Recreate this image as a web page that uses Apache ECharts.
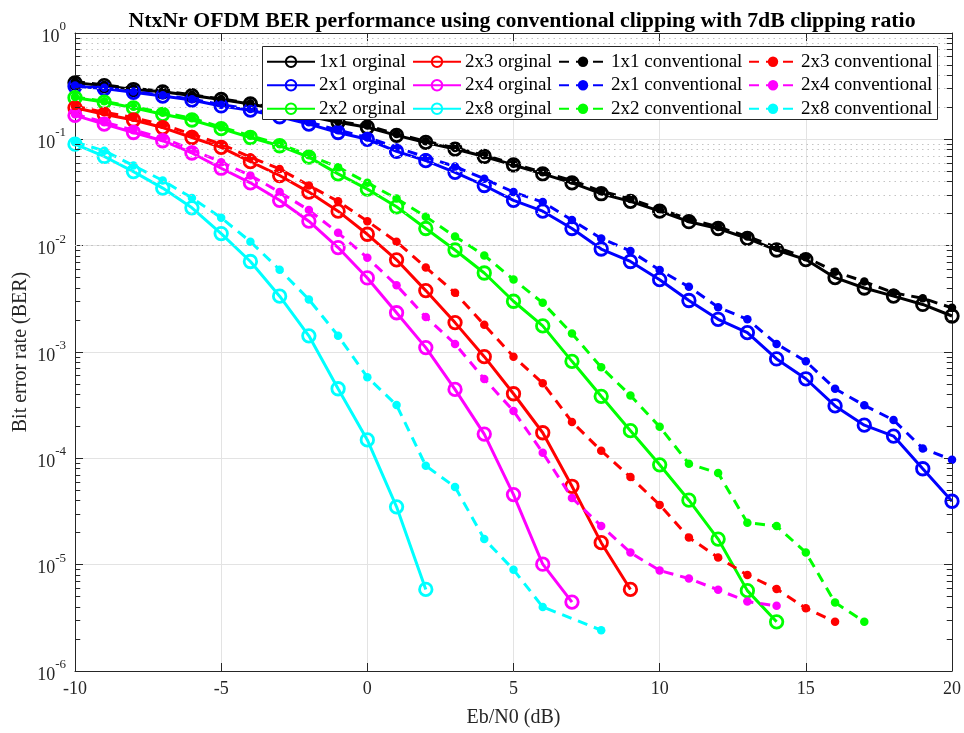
<!DOCTYPE html>
<html><head><meta charset="utf-8">
<script src="https://cdn.jsdelivr.net/npm/echarts@6/dist/echarts.min.js"></script>
<style>html,body{margin:0;padding:0;background:#fff}#c{width:964px;height:733px}</style>
</head><body><div id="c"></div>
<script>
// ---------- data ----------
const ebn0 = [-10,-9,-8,-7,-6,-5,-4,-3,-2,-1,0,1,2,3,4,5,6,7,8,9,10,11,12,13,14,15,16,17,18,19,20];
const ebn0_2x8_conv = [-10,-9,-8,-7,-6,-5,-4,-3,-2,-1,0,1,2,3,4,5,6,8];

const ber_1x1_orig = [0.34,0.32,0.294,0.28,0.258,0.237,0.215,0.19,0.165,0.145,0.13,0.109,0.0935,0.081,0.069,0.0574,0.0473,0.039,0.0308,0.0261,0.0211,0.0168,0.0145,0.0117,0.0091,0.0074,0.0050,0.0040,0.00335,0.0028,0.00218];
const ber_2x1_orig = [0.315,0.30,0.277,0.255,0.234,0.206,0.188,0.163,0.139,0.116,0.10,0.077,0.063,0.049,0.0368,0.0267,0.0211,0.0145,0.0093,0.0071,0.00479,0.00305,0.00203,0.00152,0.00086,0.00056,0.000311,0.000205,0.000162,0.0000798,0.0000395];
const ber_2x2_orig = [0.246,0.224,0.198,0.172,0.152,0.126,0.104,0.087,0.068,0.0473,0.034,0.0232,0.0145,0.0091,0.00553,0.0030,0.00176,0.000817,0.000383,0.000182,0.0000869,0.0000404,0.0000174,0.0000057,0.0000029];
const ber_2x3_orig = [0.198,0.172,0.152,0.129,0.104,0.084,0.0617,0.0457,0.0319,0.0211,0.0128,0.00736,0.00378,0.00189,0.000904,0.000405,0.000174,0.0000546,0.0000161,0.00000585];
const ber_2x4_orig = [0.168,0.139,0.116,0.097,0.0744,0.0535,0.039,0.0267,0.017,0.0096,0.00497,0.00234,0.0011,0.000445,0.000169,0.0000456,0.0000101,0.00000445];
const ber_2x8_orig = [0.09,0.069,0.0497,0.0348,0.0227,0.013,0.0071,0.00335,0.00142,0.000451,0.000149,0.000035,0.00000585];

const ber_1x1_conv = [0.35,0.325,0.30,0.285,0.262,0.24,0.218,0.195,0.168,0.147,0.135,0.112,0.096,0.083,0.071,0.059,0.049,0.041,0.0325,0.0275,0.022,0.0178,0.015,0.0122,0.0096,0.0078,0.0057,0.0046,0.0036,0.0032,0.0026];
const ber_2x1_conv = [0.32,0.305,0.282,0.26,0.238,0.212,0.193,0.17,0.145,0.122,0.104,0.084,0.068,0.0555,0.0426,0.0319,0.0257,0.0174,0.0117,0.0089,0.0059,0.0041,0.00264,0.00203,0.00119,0.000817,0.000451,0.000315,0.000229,0.000124,0.0000968];
const ber_2x2_conv = [0.25,0.228,0.202,0.178,0.158,0.13,0.108,0.09,0.071,0.0547,0.039,0.0277,0.0187,0.0122,0.0081,0.0048,0.0029,0.00149,0.00072,0.00039,0.000198,0.0000889,0.0000728,0.0000248,0.0000231,0.000013,0.0000044,0.0000029];
const ber_2x3_conv = [0.205,0.18,0.16,0.137,0.112,0.09,0.068,0.0527,0.0368,0.0261,0.017,0.0109,0.00624,0.0036,0.0018,0.000904,0.000509,0.00022,0.000118,0.0000667,0.0000365,0.000018,0.0000117,0.000008,0.0000059,0.0000039,0.0000029];
const ber_2x4_conv = [0.172,0.145,0.122,0.103,0.08,0.061,0.0457,0.0319,0.0216,0.0132,0.0077,0.00424,0.00213,0.00119,0.000558,0.000279,0.000113,0.0000424,0.0000231,0.000013,0.0000088,0.0000074,0.0000058,0.0000045,0.0000041];
const ber_2x8_conv = [0.094,0.078,0.0566,0.041,0.0281,0.0183,0.0109,0.00594,0.00312,0.00142,0.00058,0.000317,0.0000851,0.0000538,0.0000174,0.00000898,0.000004,0.00000242];

const xTicks = [-10,-5,0,5,10,15,20];
const titleText = 'NtxNr OFDM BER performance using conventional clipping with 7dB clipping ratio';
const xName = 'Eb/N0 (dB)';
const yName = 'Bit error rate (BER)';

// ---------- build ----------
const FONT = "'Liberation Serif','Times New Roman',serif";
const AX = '#262626';
const pair = (xs, ys) => ys.map((y, i) => [xs[i], y]);

const defs = [
  {name:'1x1 orginal', x:ebn0, y:ber_1x1_orig, c:'#000000', conv:false},
  {name:'2x1 orginal', x:ebn0, y:ber_2x1_orig, c:'#0000ff', conv:false},
  {name:'2x2 orginal', x:ebn0, y:ber_2x2_orig, c:'#00ff00', conv:false},
  {name:'2x3 orginal', x:ebn0, y:ber_2x3_orig, c:'#ff0000', conv:false},
  {name:'2x4 orginal', x:ebn0, y:ber_2x4_orig, c:'#ff00ff', conv:false},
  {name:'2x8 orginal', x:ebn0, y:ber_2x8_orig, c:'#00ffff', conv:false},
  {name:'1x1 conventional', x:ebn0, y:ber_1x1_conv, c:'#000000', conv:true},
  {name:'2x1 conventional', x:ebn0, y:ber_2x1_conv, c:'#0000ff', conv:true},
  {name:'2x2 conventional', x:ebn0, y:ber_2x2_conv, c:'#00ff00', conv:true},
  {name:'2x3 conventional', x:ebn0, y:ber_2x3_conv, c:'#ff0000', conv:true},
  {name:'2x4 conventional', x:ebn0, y:ber_2x4_conv, c:'#ff00ff', conv:true},
  {name:'2x8 conventional', x:ebn0_2x8_conv, y:ber_2x8_conv, c:'#00ffff', conv:true}
];

const series = defs.map(d => ({
  name: d.name, type: 'line', data: pair(d.x, d.y),
  xAxisIndex: 0, yAxisIndex: 0,
  symbol: 'circle',
  symbolSize: d.conv ? 8.5 : 12.5,
  showSymbol: true,
  itemStyle: d.conv ? {color: d.c} : {color: 'rgba(255,255,255,0)', borderColor: d.c, borderWidth: 2.8},
  lineStyle: {color: d.c, width: 3, type: d.conv ? [10, 7] : 'solid'},
  emphasis: {disabled: true},
  animation: false,
  z: d.conv ? 3 : 2
}));

// minor grid (dotted) and minor ticks on left/right
const minorVals = [];
for (let k = -6; k < 0; k++) for (let m = 2; m <= 9; m++) minorVals.push(+(m * Math.pow(10, k)).toPrecision(3));
const mlData = [];
minorVals.forEach(v => mlData.push({yAxis: v, lineStyle: {color: '#c4c4c4', type: [1.5, 4], width: 1}}));
minorVals.forEach(v => {
  mlData.push([{coord: [-10, v], lineStyle: {color: AX, type: 'solid', width: 1}}, {coord: [-9.82, v]}]);
  mlData.push([{coord: [19.82, v], lineStyle: {color: AX, type: 'solid', width: 1}}, {coord: [20, v]}]);
});
series.unshift({
  name: '__minor', type: 'line', data: [], xAxisIndex: 0, yAxisIndex: 0, silent: true, animation: false, z: 1,
  markLine: {silent: true, symbol: ['none', 'none'], label: {show: false}, animation: false, data: mlData}
});

const legendCols = [
  ['1x1 orginal', '2x1 orginal', '2x2 orginal'],
  ['2x3 orginal', '2x4 orginal', '2x8 orginal'],
  ['1x1 conventional', '2x1 conventional', '2x2 conventional'],
  ['2x3 conventional', '2x4 conventional', '2x8 conventional']
];
const legendLeft = [266, 412, 558, 748];
const legend = legendCols.map((col, i) => ({
  data: col, orient: 'vertical', left: legendLeft[i], top: 50, itemGap: 0,
  itemWidth: 48, itemHeight: 13, selectedMode: false, z: 10, padding: 0,
  textStyle: {fontFamily: FONT, fontSize: 19, color: '#000', lineHeight: 23.5, padding: [0, 0, 0, -1]}
}));

const axisCommon = {
  axisLine: {show: true, onZero: false, lineStyle: {color: AX, width: 1}},
  axisTick: {show: true, inside: true, length: 8, lineStyle: {color: AX}},
};

const option = {
  backgroundColor: '#fff',
  animation: false,
  title: {text: titleText, left: 517, top: 5, textAlign: 'center',
    textStyle: {fontFamily: FONT, fontWeight: 'bold', fontSize: 21.8, color: '#000'}},
  legend: legend,
  graphic: [{type: 'rect', shape: {x: 262.5, y: 46.5, width: 675, height: 73}, z: 9, zlevel: 0,
    style: {fill: '#fff', stroke: AX, lineWidth: 1}}],
  grid: {left: 75, right: 12, top: 33, bottom: 57, containLabel: false},
  xAxis: [
    Object.assign({type: 'value', min: -10, max: 20, interval: 5, position: 'bottom',
      name: xName, nameLocation: 'middle', nameGap: 37, nameMoveOverlap: false,
      nameTextStyle: {fontFamily: FONT, fontSize: 20, color: AX},
      axisLabel: {fontFamily: FONT, fontSize: 18, color: AX, margin: 9},
      splitLine: {show: true, lineStyle: {color: '#e3e3e3', width: 1}}}, axisCommon),
    Object.assign({type: 'value', min: -10, max: 20, interval: 5, position: 'top',
      axisLabel: {show: false}, splitLine: {show: false}}, axisCommon)
  ],
  yAxis: [
    Object.assign({type: 'log', logBase: 10, min: 1e-6, max: 1, splitNumber: 6, position: 'left',
      name: yName, nameLocation: 'middle', nameGap: 44, nameMoveOverlap: false,
      nameTextStyle: {fontFamily: FONT, fontSize: 20, color: AX},
      axisLabel: {margin: 9, formatter: v => '{b|10}{s|' + Math.round(Math.log10(v)) + '}',
        rich: {b: {fontFamily: FONT, fontSize: 18, color: AX, lineHeight: 26, verticalAlign: 'bottom'},
               s: {fontFamily: FONT, fontSize: 13, color: AX, lineHeight: 14, verticalAlign: 'top'}}},
      splitLine: {show: true, lineStyle: {color: '#e3e3e3', width: 1}}}, axisCommon),
    Object.assign({type: 'log', logBase: 10, min: 1e-6, max: 1, splitNumber: 6, position: 'right',
      axisLabel: {show: false}, splitLine: {show: false}}, axisCommon)
  ],
  series: series
};

const chart = echarts.init(document.getElementById('c'), null, {renderer: 'canvas'});
chart.setOption(option);
</script>
</body></html>
